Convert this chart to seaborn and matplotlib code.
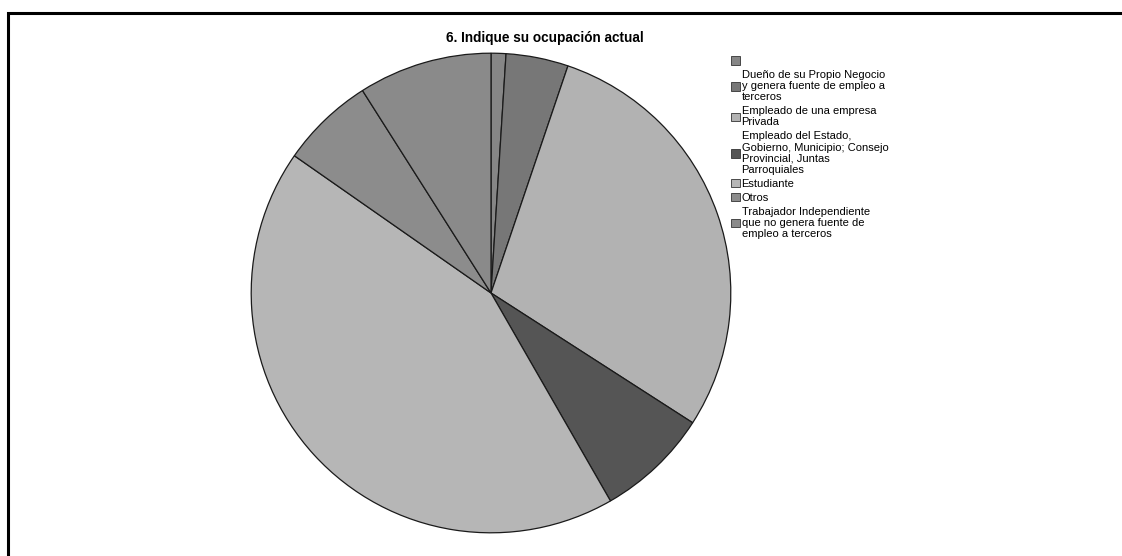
# ---
# 6. Indique su ocupación actual - pie chart
# ---

import matplotlib
matplotlib.use("Agg")
import matplotlib.pyplot as plt
from matplotlib.lines import Line2D
from matplotlib.patches import Patch
import seaborn as sns

# --- Data (percent of respondents) ---
categories = [
    " ",
    "Dueño de su Propio Negocio\ny genera fuente de empleo a\nterceros",
    "Empleado de una empresa\nPrivada",
    "Empleado del Estado,\nGobierno, Municipio; Consejo\nProvincial, Juntas\nParroquiales",
    "Estudiante",
    "Otros",
    "Trabajador Independiente\nque no genera fuente de\nempleo a terceros",
]
shares = [1.0, 4.2, 28.9, 7.6, 43.0, 6.3, 9.0]
greys = ["#868686", "#777777", "#b2b2b2", "#555555", "#b6b6b6", "#8c8c8c", "#8a8a8a"]

# --- Style ---
sns.set_style("white")
plt.rcParams["font.family"] = ["Liberation Sans", "DejaVu Sans"]
plt.rcParams["text.color"] = "black"
palette = sns.color_palette(greys)

fig = plt.figure(figsize=(11.22, 5.56), dpi=100)

# --- Pie ---
ax = fig.add_axes([250 / 1122, 22 / 556, 482 / 1122, 482 / 556])
ax.pie(
    shares,
    colors=palette,
    startangle=90,
    counterclock=False,
    radius=1.0,
    wedgeprops=dict(edgecolor="#1a1a1a", linewidth=0.9),
)
ax.set_xlim(-1.005, 1.005)
ax.set_ylim(-1.005, 1.005)
ax.set_aspect("equal")
ax.axis("off")

# --- Title ---
fig.text(545 / 1122, 1 - 38 / 556, "6. Indique su ocupación actual",
         ha="center", va="center", fontsize=9.8, fontweight="bold", color="black")

# --- Legend ---
handles = [Patch(facecolor=c, edgecolor="#333333", linewidth=0.6) for c in palette]
leg = fig.legend(
    handles, categories,
    loc="upper left",
    bbox_to_anchor=(731 / 1122, 1 - 56 / 556),
    frameon=False,
    fontsize=8,
    handlelength=0.8,
    handleheight=0.8,
    handletextpad=0.15,
    labelspacing=0.35,
    borderpad=0,
    borderaxespad=0,
)
plt.setp(leg.get_texts(), linespacing=1.15, color="black")

# --- Frame (left and top edges only) ---
fig.add_artist(Line2D([8 / 1122, 8 / 1122, 1.0], [0.0, 1 - 13 / 556, 1 - 13 / 556],
                      transform=fig.transFigure, color="black", linewidth=2.2,
                      solid_joinstyle="miter"))

fig.savefig("out.png", dpi=100)
